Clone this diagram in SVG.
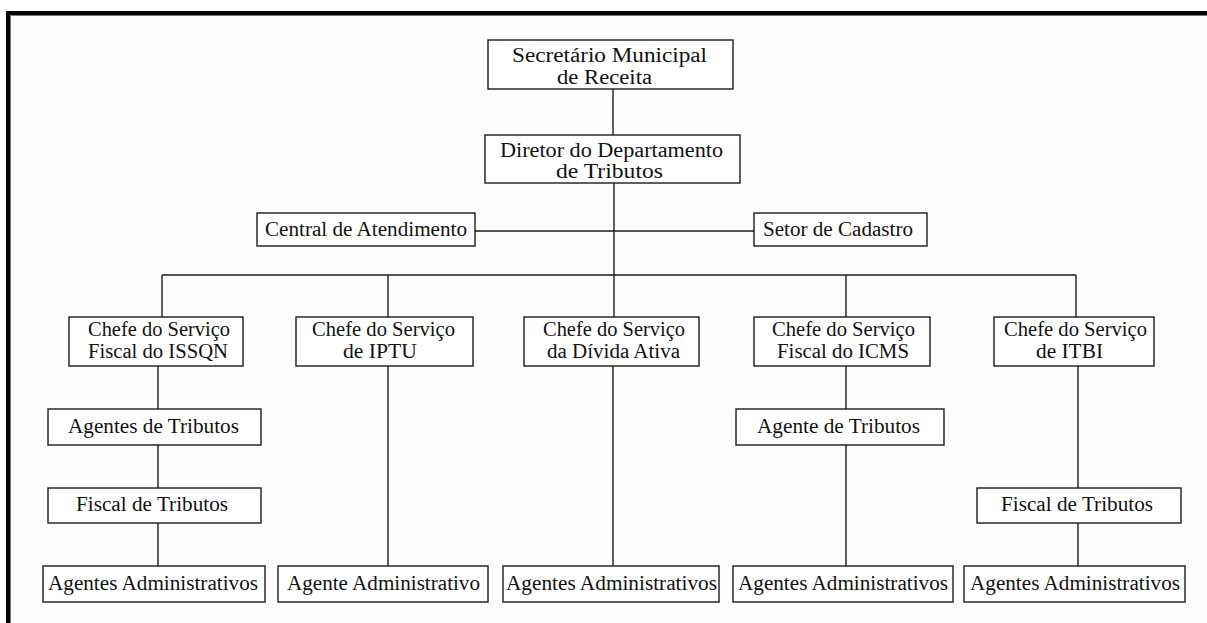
<svg xmlns="http://www.w3.org/2000/svg" width="1207" height="623" viewBox="0 0 1207 623">
<style>
.box{fill:#fff;stroke:#1a1a1a;stroke-width:1.4}
.ln{stroke:#1a1a1a;stroke-width:1.4;fill:none}
text{font-family:"Liberation Serif","Times New Roman",serif;font-size:20px;fill:#111;text-anchor:middle}
</style>
<rect x="0" y="0" width="1207" height="623" fill="#fff"/>
<rect x="8" y="13" width="1300" height="700" fill="#fdfdfd" stroke="#000" stroke-width="4"/>
<path d="M10.5 15.5 V623 M10.5 15.5 H1207" stroke="#777" stroke-width="1" fill="none"/>
<g id="connectors">
<path class="ln" d="M613 89 V135"/>
<path class="ln" d="M614 183 V317"/>
<path class="ln" d="M475 231 H754"/>
<path class="ln" d="M162 275 H1076"/>
<path class="ln" d="M162 275 V317 M388 275 V317 M846 275 V317 M1076 275 V317"/>
<path class="ln" d="M158 366 V409 M158 445 V488 M158 523 V566"/>
<path class="ln" d="M388 366 V566"/>
<path class="ln" d="M613 366 V566"/>
<path class="ln" d="M846 366 V409 M846 445 V566"/>
<path class="ln" d="M1078 366 V488 M1078 523 V566"/>
</g>
<g id="secretario"><rect class="box" x="488" y="40" width="245" height="49"/>
<text x="609.5" y="62" textLength="195" lengthAdjust="spacingAndGlyphs">Secretário Municipal</text>
<text x="604.5" y="84" textLength="95" lengthAdjust="spacingAndGlyphs">de Receita</text></g>
<g id="diretor"><rect class="box" x="485" y="135" width="255" height="48"/>
<text x="611.5" y="157" textLength="223" lengthAdjust="spacingAndGlyphs">Diretor do Departamento</text>
<text x="609.5" y="178" textLength="107" lengthAdjust="spacingAndGlyphs">de Tributos</text></g>
<g id="central"><rect class="box" x="257" y="213" width="218" height="33"/>
<text x="366" y="236" textLength="202" lengthAdjust="spacingAndGlyphs">Central de Atendimento</text></g>
<g id="setor"><rect class="box" x="754" y="213" width="173" height="33"/>
<text x="838" y="236" textLength="150" lengthAdjust="spacingAndGlyphs">Setor de Cadastro</text></g>
<g id="issqn"><rect class="box" x="69" y="317" width="174" height="49"/>
<text x="159" y="336" textLength="142" lengthAdjust="spacingAndGlyphs">Chefe do Serviço</text>
<text x="158" y="358" textLength="140" lengthAdjust="spacingAndGlyphs">Fiscal do ISSQN</text></g>
<g id="iptu"><rect class="box" x="296" y="317" width="177" height="49"/>
<text x="383.5" y="336" textLength="143" lengthAdjust="spacingAndGlyphs">Chefe do Serviço</text>
<text x="380" y="358" textLength="74" lengthAdjust="spacingAndGlyphs">de IPTU</text></g>
<g id="divida"><rect class="box" x="524" y="317" width="175" height="49"/>
<text x="614" y="336" textLength="142" lengthAdjust="spacingAndGlyphs">Chefe do Serviço</text>
<text x="613.5" y="358" textLength="133" lengthAdjust="spacingAndGlyphs">da Dívida Ativa</text></g>
<g id="icms"><rect class="box" x="754" y="317" width="176" height="49"/>
<text x="843.5" y="336" textLength="143" lengthAdjust="spacingAndGlyphs">Chefe do Serviço</text>
<text x="843" y="358" textLength="132" lengthAdjust="spacingAndGlyphs">Fiscal do ICMS</text></g>
<g id="itbi"><rect class="box" x="994" y="317" width="160" height="49"/>
<text x="1075.5" y="336" textLength="143" lengthAdjust="spacingAndGlyphs">Chefe do Serviço</text>
<text x="1069.5" y="358" textLength="67" lengthAdjust="spacingAndGlyphs">de ITBI</text></g>
<g id="issqn-agentes"><rect class="box" x="48" y="409" width="213" height="36"/>
<text x="153.5" y="433" textLength="171" lengthAdjust="spacingAndGlyphs">Agentes de Tributos</text></g>
<g id="issqn-fiscal"><rect class="box" x="48" y="488" width="213" height="35"/>
<text x="152" y="511" textLength="152" lengthAdjust="spacingAndGlyphs">Fiscal de Tributos</text></g>
<g id="issqn-adm"><rect class="box" x="43" y="566" width="222" height="36"/>
<text x="153" y="590" textLength="210" lengthAdjust="spacingAndGlyphs">Agentes Administrativos</text></g>
<g id="iptu-adm"><rect class="box" x="278" y="566" width="210" height="36"/>
<text x="383.5" y="590" textLength="193" lengthAdjust="spacingAndGlyphs">Agente Administrativo</text></g>
<g id="divida-adm"><rect class="box" x="503" y="566" width="216" height="36"/>
<text x="611.5" y="590" textLength="211" lengthAdjust="spacingAndGlyphs">Agentes Administrativos</text></g>
<g id="icms-agente"><rect class="box" x="736" y="409" width="208" height="36"/>
<text x="838.5" y="433" textLength="163" lengthAdjust="spacingAndGlyphs">Agente de Tributos</text></g>
<g id="icms-adm"><rect class="box" x="733" y="566" width="220" height="36"/>
<text x="843" y="590" textLength="210" lengthAdjust="spacingAndGlyphs">Agentes Administrativos</text></g>
<g id="itbi-fiscal"><rect class="box" x="977" y="488" width="204" height="35"/>
<text x="1077" y="511" textLength="152" lengthAdjust="spacingAndGlyphs">Fiscal de Tributos</text></g>
<g id="itbi-adm"><rect class="box" x="964" y="566" width="221" height="36"/>
<text x="1075" y="590" textLength="210" lengthAdjust="spacingAndGlyphs">Agentes Administrativos</text></g>
</svg>
